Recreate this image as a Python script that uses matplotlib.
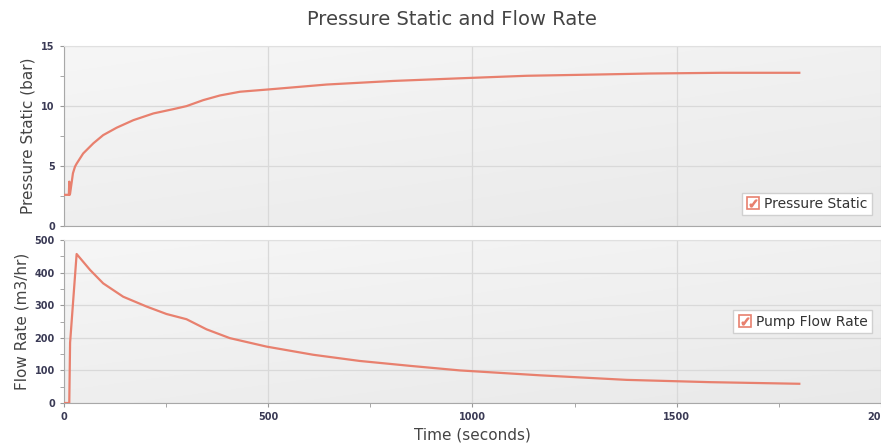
import numpy as np
import matplotlib.pyplot as plt
from matplotlib.lines import Line2D

# data
t_pres = [0, 12, 13, 14, 15, 22, 27, 31, 47, 72, 96, 129, 170, 219, 268, 300, 341, 382,
          431, 504, 643, 806, 969, 1132, 1312, 1434, 1610, 1800]
pres = [2.6, 2.6, 3.7, 2.6, 2.7, 4.4, 4.95, 5.2, 6.05, 6.9, 7.58, 8.2, 8.83, 9.39, 9.75,
        10.0, 10.5, 10.89, 11.2, 11.4, 11.8, 12.1, 12.32, 12.53, 12.64, 12.72, 12.78, 12.78]

t_flow = [0, 13, 15, 31, 64, 96, 145, 202, 251, 300, 349, 406, 496, 610, 724, 847, 969,
          1165, 1377, 1581, 1800]
flow = [0, 0, 185, 457, 408, 367, 326, 296, 273, 257, 226, 199, 173, 148, 129, 114, 100,
        85, 71, 64, 59]

line_col = '#E8806E'
tick_col = '#3a3a55'

fig = plt.figure(figsize=(8.81, 4.44), dpi=100)
fig.patch.set_facecolor('white')

ax1 = fig.add_axes([0.0726, 0.491, 0.9274, 0.405])
ax2 = fig.add_axes([0.0726, 0.0923, 0.9274, 0.3672])

# light diagonal gradient for the plot background
yy, xx = np.mgrid[0:1:100j, 0:1:200j]
shade = 0.965 - 0.05 * (0.6 * yy + 0.4 * xx)
bg = np.dstack([shade, shade, shade])

for ax in (ax1, ax2):
    ax.imshow(bg, aspect='auto', extent=[0, 1, 0, 1], transform=ax.transAxes,
              zorder=0, origin='upper')
    ax.set_xlim(0, 2000)
    ax.set_xticks([0, 500, 1000, 1500, 2000])
    ax.set_xticks([250, 750, 1250, 1750], minor=True)
    ax.grid(True, which='major', color='#d9d9d9', lw=0.9)
    ax.set_axisbelow(True)
    for s in ['top', 'right']:
        ax.spines[s].set_color('#e0e0e0')
    for s in ['left', 'bottom']:
        ax.spines[s].set_color('#a8a8a8')
    ax.tick_params(which='both', direction='out', colors='#999999', labelcolor=tick_col,
                   labelsize=7, length=3)

ax1.plot(t_pres, pres, color=line_col, lw=1.6, zorder=3)
ax1.set_ylim(0, 15)
ax1.set_yticks([0, 5, 10, 15])
ax1.set_yticks([2.5, 7.5, 12.5], minor=True)
ax1.tick_params(axis='x', labelbottom=False, length=0, which='both')
ax1.set_ylabel('Pressure Static (bar)', fontsize=11, color='#444444')
for lab in ax1.get_yticklabels():
    lab.set_fontweight('bold')

ax2.plot(t_flow, flow, color=line_col, lw=1.6, zorder=3)
ax2.set_ylim(0, 500)
ax2.set_yticks([0, 100, 200, 300, 400, 500])
ax2.set_yticks([50, 150, 250, 350, 450], minor=True)
ax2.set_ylabel('Flow Rate (m3/hr)', fontsize=11, color='#444444')
ax2.set_xlabel('Time (seconds)', fontsize=11, color='#444444', labelpad=4)
for lab in ax2.get_yticklabels() + ax2.get_xticklabels():
    lab.set_fontweight('bold')

box = Line2D([], [], marker='s', ls='none', mfc='white', mec=line_col, ms=8, mew=1.2)
tick = Line2D([], [], marker=r'$\checkmark$', ls='none', color=line_col, ms=5)
handle = [(box, tick)]

leg1 = ax1.legend(handle, ['Pressure Static'], loc='lower right', bbox_to_anchor=(0.997, 0.02),
                  fontsize=10, frameon=True, fancybox=False, handletextpad=0.3,
                  borderpad=0.3, handlelength=1.0)
leg2 = ax2.legend(handle, ['Pump Flow Rate'], loc='center right', bbox_to_anchor=(0.997, 0.5),
                  fontsize=10, frameon=True, fancybox=False, handletextpad=0.3,
                  borderpad=0.3, handlelength=1.0)
for leg in (leg1, leg2):
    leg.get_frame().set_edgecolor('#d0d0d0')
    leg.get_frame().set_facecolor('white')
    leg.get_frame().set_alpha(1)
    for txt in leg.get_texts():
        txt.set_color('#333333')

fig.text(0.513, 0.955, 'Pressure Static and Flow Rate', ha='center', va='center',
         fontsize=14, color='#444444')

fig.savefig('out.png', dpi=100)
